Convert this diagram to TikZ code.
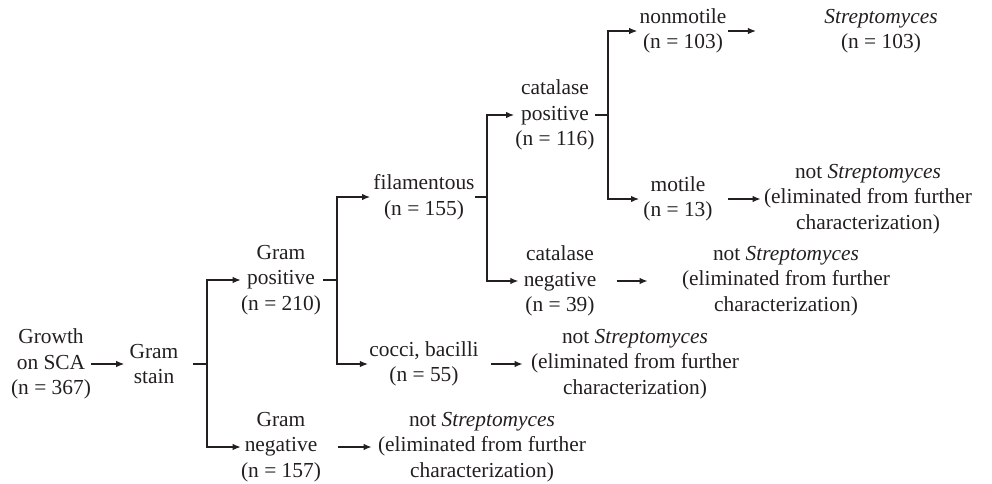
\documentclass[tikz,border=0pt]{standalone}
\usepackage{fontspec}
\setmainfont{Liberation Serif}
\usetikzlibrary{positioning, arrows.meta}
\definecolor{inkgray}{RGB}{35,31,32}

\begin{document}
\begin{tikzpicture}[
  x=0.5pt, y=-0.5pt,
  font=\fontsize{10.7}{12.8}\selectfont,
  step box/.style={inner sep=0pt, align=center, text=inkgray},
  branch/.style={draw=inkgray, line width=0.6pt},
  flow/.style={branch, -{Latex[length=4pt, width=3.2pt]}},
]
\useasboundingbox (0,0) rectangle (992,483);

% Stages of the screening tree
\node[step box] (growth) at (51, 364) {Growth\\on SCA\\(n = 367)};
\node[step box] (gramstain) at (154, 364) {Gram\\stain};
\node[step box] (grampos) at (281, 280) {Gram\\positive\\(n = 210)};
\node[step box] (gramneg) at (281, 447) {Gram\\negative\\(n = 157)};
\node[step box] (filam) at (424, 197) {filamentous\\(n = 155)};
\node[step box] (cocci) at (424, 364) {cocci, bacilli\\(n = 55)};
\node[step box] (catpos) at (555, 115) {catalase\\positive\\(n = 116)};
\node[step box] (catneg) at (560, 281) {catalase\\negative\\(n = 39)};
\node[step box] (nonmot) at (683, 31) {nonmotile\\(n = 103)};
\node[step box] (motile) at (678, 199) {motile\\(n = 13)};

% Outcomes
\node[step box] (strep) at (881, 31) {\textit{Streptomyces}\\(n = 103)};
\node[step box] (elimmot) at (868, 199) {not \textit{Streptomyces}\\(eliminated from further\\characterization)};
\node[step box] (elimcat) at (786, 281) {not \textit{Streptomyces}\\(eliminated from further\\characterization)};
\node[step box] (elimcocci) at (635, 364) {not \textit{Streptomyces}\\(eliminated from further\\characterization)};
\node[step box] (elimneg) at (482, 447) {not \textit{Streptomyces}\\(eliminated from further\\characterization)};

% Branch points
\coordinate (jgs) at (207, 364);
\coordinate (jgp) at (337, 280);
\coordinate (jfil) at (487, 197);
\coordinate (jcat) at (608, 115);

% Connectors
\draw[flow, shorten >=2.5pt] (growth) -- (gramstain);
\draw[branch, shorten <=7pt] (gramstain.east) -- (jgs);
\draw[flow] (jgs) |- (grampos.west);
\draw[flow] (jgs) |- (gramneg.west);

\draw[branch, shorten <=1pt] (grampos.east) -- (jgp);
\draw[flow, shorten >=1.5pt] (jgp) |- (filam.west);
\draw[flow, shorten >=0.5pt] (jgp) |- (cocci.west);

\draw[branch] (filam.east) -- (jfil);
\draw[flow, shorten >=0.5pt] (jfil) |- (catpos.west);
\draw[flow, shorten >=2.5pt] (jfil) |- (catneg.west);

\draw[branch] (catpos.east) -- (jcat);
\draw[flow, shorten >=1pt] (jcat) |- (nonmot.west);
\draw[flow, shorten >=2pt] (jcat) |- (motile.west);

\draw[flow, shorten <=0.5pt, shorten >=34pt] (nonmot) -- (strep);
\draw[flow, shorten <=7.5pt, shorten >=1.5pt] (motile) -- (elimmot);
\draw[flow, shorten <=10pt, shorten >=17pt] (catneg) -- (elimcat);
\draw[flow, shorten <=6pt, shorten >=4pt] (cocci) -- (elimcocci);
\draw[flow, shorten <=8.5pt, shorten >=3pt] (gramneg) -- (elimneg);

\end{tikzpicture}
\end{document}
